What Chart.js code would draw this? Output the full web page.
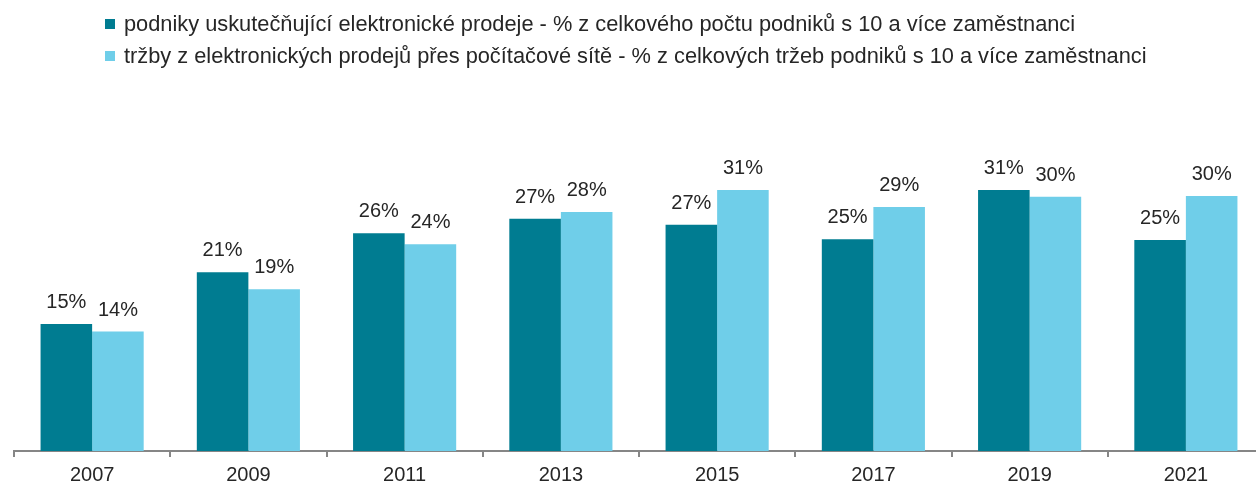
<!DOCTYPE html>
<html>
<head>
<meta charset="utf-8">
<script src="https://cdn.jsdelivr.net/npm/chart.js@4/dist/chart.umd.min.js"></script>
<style>
  html, body { margin: 0; padding: 0; background: #fff; overflow: hidden; }
  body { width: 1256px; height: 484px; position: relative; font-family: "Liberation Sans", Arial, sans-serif; }
  #wrap { position: absolute; left: 0; top: 0; width: 1264px; height: 493px; }
  #legend { position: absolute; left: 105px; top: 8px; font-size: 21.8px; color: #262626; z-index: 2; }
  #legend div { height: 32px; display: flex; align-items: center; white-space: nowrap; }
  #legend span { display: inline-block; width: 10px; height: 10px; margin-right: 9px; }
</style>
</head>
<body>
<div id="legend"></div>
<div id="wrap"><canvas id="js-chart-eprodeje"></canvas></div>
<script>
// Data
const years = ['2007', '2009', '2011', '2013', '2015', '2017', '2019', '2021'];
const podnikyProdeje = [15.0, 21.1, 25.7, 27.4, 26.7, 25.0, 30.8, 24.9];
const trzbyProdeje = [14.1, 19.1, 24.4, 28.2, 30.8, 28.8, 30.0, 30.1];
const seriesNames = [
  'podniky uskutečňující elektronické prodeje - % z celkového počtu podniků s 10 a více zaměstnanci',
  'tržby z elektronických prodejů přes počítačové sítě - % z celkových tržeb podniků s 10 a více zaměstnanci'
];
const seriesColors = ['#007c91', '#6fcee9'];

// Value labels above bars
const barLabels = {
  id: 'barLabels',
  afterDatasetsDraw(chart) {
    const ctx = chart.ctx;
    ctx.save();
    ctx.font = '20px "Liberation Sans", Arial, sans-serif';
    ctx.fillStyle = '#262626';
    ctx.textAlign = 'center';
    ctx.textBaseline = 'alphabetic';
    chart.data.datasets.forEach((ds, i) => {
      chart.getDatasetMeta(i).data.forEach((bar, j) => {
        ctx.fillText(Math.round(ds.data[j]) + '%', bar.x, bar.y - 16);
      });
    });
    ctx.restore();
  }
};

// Legend
let legendEl = document.getElementById('legend');
seriesNames.forEach((name, i) => {
  let row = document.createElement('div');
  let box = document.createElement('span');
  box.style.background = seriesColors[i];
  row.appendChild(box);
  row.appendChild(document.createTextNode(name));
  legendEl.appendChild(row);
});

Chart.defaults.font.family = '"Liberation Sans", Arial, sans-serif';
Chart.defaults.color = '#262626';

let chartCon = document.getElementById('js-chart-eprodeje');
let chart = new Chart(chartCon, {
  type: 'bar',
  data: {
    labels: years,
    datasets: [
      { label: seriesNames[0], data: podnikyProdeje, backgroundColor: seriesColors[0] },
      { label: seriesNames[1], data: trzbyProdeje, backgroundColor: seriesColors[1] }
    ]
  },
  options: {
    responsive: true,
    maintainAspectRatio: false,
    animation: false,
    barPercentage: 1,
    categoryPercentage: 0.66,
    layout: { padding: { left: 14, right: 0, top: 112, bottom: 0 } },
    scales: {
      x: {
        grid: { drawOnChartArea: false, offset: true, tickLength: 6, color: '#868686', lineWidth: 2 },
        border: { color: '#868686', width: 2 },
        ticks: { font: { size: 20 }, padding: 6, color: '#262626' }
      },
      y: { display: false, min: 0, max: 40 }
    },
    plugins: {
      legend: { display: false },
      tooltip: { enabled: false }
    }
  },
  plugins: [barLabels]
});
</script>
</body>
</html>
